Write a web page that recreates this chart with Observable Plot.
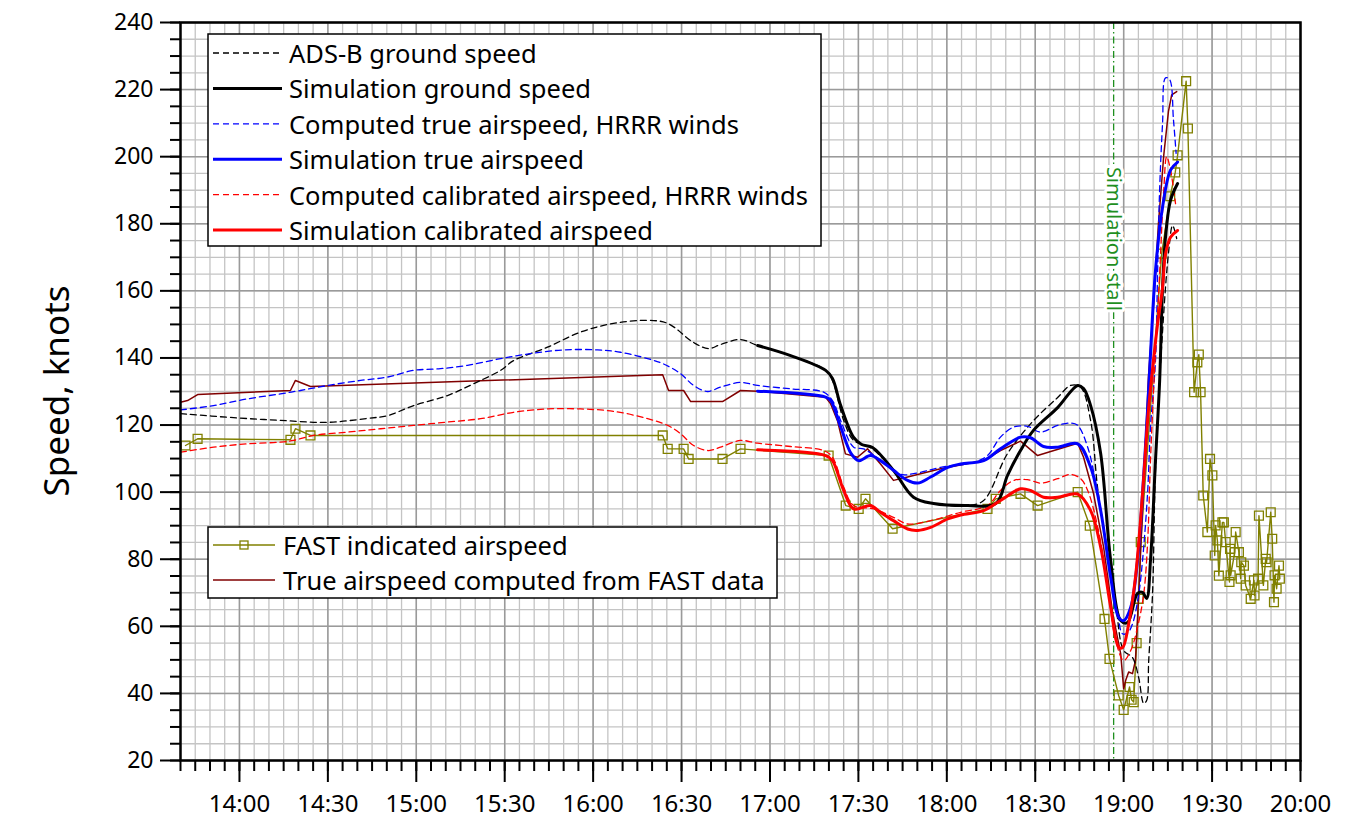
<!DOCTYPE html>
<html><head><meta charset="utf-8">
<script src="https://cdn.jsdelivr.net/npm/d3@7"></script>
<script src="https://cdn.jsdelivr.net/npm/@observablehq/plot@0.6"></script>
<style>body{margin:0;background:#fff;} svg{display:block}</style>
</head><body><div id="chart"></div>
<script>
// ---------- tick labels ----------
const xTickLabels = ["14:00","14:30","15:00","15:30","16:00","16:30","17:00","17:30","18:00","18:30","19:00","19:30","20:00"];
const yTickValues = [20,40,60,80,100,120,140,160,180,200,220,240];
const stallTime = "18:56.6";
const stallLabel = "Simulation stall";

// ---------- series: [time "H:MM.m", knots] ----------
const adsbGround = [
["13:40.0",123.4],["13:58.0",122.2],["14:13.9",121.4],["14:29.9",120.8],["14:43.5",122.0],["14:50.2",122.8],
["14:59.1",125.8],["15:10.6",128.8],["15:19.4",132.3],["15:28.6",136.3],["15:33.0",139.2],["15:44.5",143.2],
["15:55.7",147.7],["16:06.9",150.3],["16:18.5",151.2],["16:25.3",150.3],["16:34.1",144.6],["16:39.2",142.8],
["16:43.2",144.0],["16:50.0",145.5],["16:55.8",143.7],["17:07.0",140.7],["17:18.9",136.3],["17:21.2",133.3],
["17:25.0",121.4],["17:28.4",115.4],["17:34.1",113.3],["17:41.9",106.5],["17:48.7",98.5],["17:55.5",96.6],
["18:07.1",96.0],["18:12.5",97.5],["18:20.6",111.5],["18:29.4",121.3],["18:37.6",128.2],["18:42.0",131.8],
["18:45.4",131.3],["18:48.8",121.3],["18:51.2",101.0],["18:54.6",82.0],["18:57.5",65.0],["19:00.0",52.8],
["19:03.0",50.7],["19:05.1",44.7],["19:06.8",37.0],["19:07.8",37.9],["19:08.5",49.8],["19:09.8",69.8],
["19:10.8",106.5],["19:13.2",148.0],["19:15.3",172.0],["19:16.6",179.5],["19:18.0",175.6]
];
const simGround = [
["16:55.8",143.7],["17:07.0",140.7],["17:18.9",136.3],["17:21.2",133.9],["17:24.0",125.8],["17:28.4",116.3],
["17:31.1",114.2],["17:34.8",113.3],["17:41.9",106.5],["17:48.7",98.5],["17:55.5",96.6],["18:07.1",96.0],
["18:16.6",96.6],["18:20.6",105.0],["18:25.0",112.4],["18:29.4",118.4],["18:37.6",125.2],["18:44.4",131.8],
["18:46.4",130.9],["18:48.8",125.8],["18:52.2",111.5],["18:55.6",79.6],["18:59.0",61.7],["19:01.3",61.1],
["19:04.7",69.8],["19:06.4",70.1],["19:07.8",68.3],["19:09.1",79.6],["19:10.8",109.4],["19:12.2",133.0],
["19:13.2",161.0],["19:14.2",176.0],["19:15.9",187.0],["19:18.3",192.0]
];
const hrrrTrue = [
["13:40.0",124.5],["13:51.2",125.8],["14:02.7",127.8],["14:13.9",129.3],["14:20.7",130.3],["14:29.9",131.8],
["14:41.1",133.3],["14:50.2",134.3],["14:59.1",136.3],["15:08.2",136.8],["15:17.4",137.8],["15:28.6",139.8],
["15:38.8",141.3],["15:50.0",142.4],["16:01.5",142.4],["16:09.3",141.7],["16:18.5",139.8],["16:23.9",138.2],
["16:29.7",135.3],["16:34.1",131.8],["16:38.8",130.0],["16:43.2",131.3],["16:50.0",132.7],["16:55.8",131.8],
["17:07.0",130.8],["17:18.2",129.8],["17:21.2",127.3],["17:24.0",121.3],["17:28.4",113.4],["17:31.8",112.9],
["17:37.5",109.5],["17:44.3",105.3],["17:48.7",105.5],["17:57.9",107.4],["18:09.1",108.9],["18:13.8",110.9],
["18:18.2",116.4],["18:22.7",119.4],["18:27.4",119.6],["18:31.8",117.9],["18:37.6",119.9],["18:42.0",120.6],
["18:44.4",119.9],["18:47.8",113.4],["18:51.2",99.5],["18:54.6",81.6],["18:58.0",63.7],["18:59.6",57.8],
["19:01.3",58.0],["19:03.0",60.7],["19:05.1",69.6],["19:06.4",79.6],["19:08.1",99.5],["19:09.1",119.4],
["19:10.8",139.2],["19:11.5",165.0],["19:12.2",190.0],["19:13.2",210.0],["19:14.2",223.5],["19:15.6",223.0],
["19:16.9",211.0],["19:17.8",201.0]
];
const simTrue = [
["16:55.8",130.1],["17:18.9",128.3],["17:20.6",127.3],["17:24.0",119.4],["17:27.6",111.4],["17:30.1",109.4],
["17:34.1",110.9],["17:37.5",109.4],["17:41.9",106.5],["17:46.7",103.5],["17:50.1",102.7],["17:54.5",104.5],
["18:00.3",107.4],["18:04.7",108.4],["18:12.5",109.4],["18:18.2",112.9],["18:25.0",116.4],["18:28.4",116.2],
["18:32.8",113.6],["18:37.6",113.4],["18:44.4",114.4],["18:48.8",107.4],["18:52.2",94.5],["18:55.6",74.6],
["18:58.3",62.7],["19:00.0",61.7],["19:02.4",65.7],["19:04.7",79.6],["19:06.4",99.5],["19:08.1",124.3],
["19:09.1",141.0],["19:10.8",166.0],["19:13.2",185.0],["19:15.9",196.0],["19:18.3",198.4]
];
const hrrrCal = [
["13:40.0",111.9],["13:51.2",113.4],["14:02.7",114.4],["14:13.9",114.9],["14:18.3",115.4],["14:25.1",116.9],
["14:36.7",117.9],["14:47.9",118.9],["14:59.1",119.9],["15:10.6",120.9],["15:21.8",121.9],["15:33.0",123.8],
["15:44.5",124.8],["15:55.7",124.8],["16:06.9",124.1],["16:18.5",121.9],["16:25.3",119.9],["16:29.7",117.4],
["16:34.1",113.9],["16:39.2",112.4],["16:43.2",113.4],["16:50.0",115.4],["16:55.8",114.6],["17:07.0",113.6],
["17:18.2",112.4],["17:21.2",110.4],["17:25.0",101.5],["17:28.4",96.0],["17:35.2",95.0],["17:41.9",92.5],
["17:46.7",90.5],["17:54.5",91.5],["18:04.7",94.0],["18:13.8",96.0],["18:18.2",100.5],["18:22.7",103.5],
["18:27.4",103.7],["18:31.8",102.7],["18:37.6",104.0],["18:42.0",105.3],["18:45.4",104.0],["18:47.8",100.5],
["18:51.2",89.6],["18:54.6",71.7],["18:57.3",55.8],["19:00.0",49.8],["19:02.4",52.8],["19:04.7",59.7],
["19:06.8",69.6],["19:08.1",84.5],["19:09.1",109.4],["19:10.1",129.3],["19:12.2",165.0],["19:13.6",190.0],
["19:14.6",200.0],["19:15.9",196.0],["19:17.6",186.0]
];
const simCal = [
["16:55.8",112.6],["17:18.9",110.9],["17:21.2",109.4],["17:25.0",100.5],["17:28.4",95.0],["17:34.1",96.0],
["17:37.5",94.0],["17:41.9",91.5],["17:46.7",89.0],["17:50.1",88.6],["17:54.5",89.5],["18:00.3",92.0],
["18:04.7",93.2],["18:12.5",94.5],["18:18.2",97.5],["18:25.0",101.0],["18:28.4",100.5],["18:32.8",98.5],
["18:37.6",98.5],["18:44.4",99.4],["18:48.8",94.5],["18:52.2",83.6],["18:55.6",65.7],["18:58.3",53.8],
["18:59.6",53.6],["19:01.7",60.7],["19:04.0",74.6],["19:06.4",99.5],["19:08.4",124.3],["19:10.1",139.2],
["19:11.5",150.0],["19:13.2",161.0],["19:14.2",171.0],["19:15.9",176.0],["19:18.3",178.0]
];
const fastIndicated = [
["13:41.7",113.9],["13:45.8",115.9],["14:17.3",115.6],["14:19.0",118.9],["14:24.1",116.9],["16:23.6",116.9],
["16:25.3",112.9],["16:30.7",112.9],["16:32.4",109.9],["16:43.9",109.9],["16:50.0",112.9],["17:19.9",110.9],
["17:25.7",96.0],["17:30.1",95.0],["17:32.4",98.0],["17:41.6",89.1],["18:13.8",95.0],["18:16.6",98.0],
["18:25.0",99.5],["18:30.8",96.0],["18:44.4",100.0],["18:48.5",90.0],["18:53.5",62.2],["18:55.2",50.3],
["18:58.3",39.4],["19:00.0",35.1],["19:02.0",41.9],["19:02.7",38.1],["19:03.4",37.4],["19:04.4",55.0],
["19:05.1",68.2],["19:05.8",85.1],["19:12.9",171.1],["19:15.8",188.2],["19:17.5",195.3],["19:18.3",200.4],
["19:21.2",222.5],["19:21.8",208.4],["19:23.9",129.8],["19:25.0",138.7],["19:25.5",141.0],["19:26.1",129.8],
["19:27.0",99.0],["19:28.4",88.1],["19:29.3",109.9],["19:30.1",105.0],["19:30.9",81.1],["19:31.2",90.1],
["19:31.8",85.6],["19:32.3",75.1],["19:33.5",91.0],["19:34.0",91.0],["19:34.6",85.1],["19:35.9",73.2],
["19:36.1",83.1],["19:36.3",75.2],["19:37.7",82.1],["19:38.0",88.1],["19:39.1",82.1],["19:39.7",74.2],
["19:39.9",79.1],["19:40.8",78.1],["19:41.4",72.2],["19:43.1",68.2],["19:44.2",73.7],["19:44.4",69.2],
["19:45.6",74.2],["19:45.9",93.0],["19:47.4",72.2],["19:48.2",80.1],["19:48.5",79.1],["19:49.9",94.0],
["19:50.4",86.1],["19:51.0",67.2],["19:51.2",75.2],["19:51.9",71.2],["19:52.7",78.1],["19:53.0",74.2]
];
const fastTrue = [
["13:40.0",126.8],["13:42.4",127.3],["13:45.8",129.1],["14:17.3",130.3],["14:19.0",133.3],["14:24.1",131.5],
["16:23.6",135.0],["16:25.6",130.3],["16:30.7",130.3],["16:33.1",127.0],["16:43.9",127.0],["16:50.0",130.3],
["16:55.8",130.1],["17:18.9",128.3],["17:20.6",126.3],["17:22.9",121.3],["17:25.6",111.4],["17:29.7",110.4],
["17:33.1",112.9],["17:37.5",108.4],["17:41.9",103.5],["17:46.7",104.5],["17:57.9",107.0],["18:12.5",109.4],
["18:18.2",112.4],["18:25.0",115.2],["18:30.8",110.9],["18:44.4",114.6],["18:46.4",110.4],["18:49.8",99.5],
["18:53.2",83.6],["18:56.3",63.7],["18:59.0",51.8],["19:00.0",41.4],["19:00.7",43.9],["19:01.7",46.4],
["19:03.0",45.9],["19:04.0",49.8],["19:05.1",69.6],["19:06.4",94.5],["19:07.4",114.4],["19:08.4",134.3],
["19:10.1",155.0],["19:11.8",180.0],["19:13.6",200.4],["19:15.2",213.5],["19:16.3",218.4],["19:18.0",219.4]
];

// ---------- helpers ----------
const toMin = s => { const [h, m] = s.split(":"); return +h * 60 + parseFloat(m); };
const rows = arr => arr.map(([t, v]) => ({t: toMin(t), v}));
const fmt = m => `${Math.floor(m / 60)}:${String(Math.round(m % 60)).padStart(2, "0")}`;
const xMajor = xTickLabels.map(toMin);
const xMinor = d3.range(toMin("13:40"), toMin("20:00") + 0.1, 5);
const yMinor = d3.range(20, 241, 5);

const FONT = "'Noto Sans', 'Open Sans', sans-serif";
const st = {
  adsb: {stroke: "#000", strokeWidth: 1.3, strokeDasharray: "6,4"},
  simG: {stroke: "#000", strokeWidth: 3},
  hT: {stroke: "#0000ff", strokeWidth: 1.3, strokeDasharray: "6,4"},
  sT: {stroke: "#0000ff", strokeWidth: 3},
  hC: {stroke: "#ff0000", strokeWidth: 1.3, strokeDasharray: "6,4"},
  sC: {stroke: "#ff0000", strokeWidth: 3},
  fI: {stroke: "#808000", strokeWidth: 1.4},
  fT: {stroke: "#800000", strokeWidth: 1.5}
};
const stallColor = "#1f8f1f";

const chart = Plot.plot({
  width: 1345, height: 822,
  marginLeft: 180, marginRight: 45, marginTop: 22, marginBottom: 62,
  style: {fontFamily: FONT, background: "#fff", color: "#000"},
  x: {domain: [toMin("13:40"), toMin("20:00")]},
  y: {domain: [20, 240]},
  marks: [
    Plot.gridX(xMinor, {stroke: "#c4c4c4", strokeOpacity: 1, strokeWidth: 1.3}),
    Plot.gridY(yMinor, {stroke: "#c4c4c4", strokeOpacity: 1, strokeWidth: 1.3}),
    Plot.gridX(xMajor, {stroke: "#9a9a9a", strokeOpacity: 1, strokeWidth: 1.5}),
    Plot.gridY(yTickValues, {stroke: "#9a9a9a", strokeOpacity: 1, strokeWidth: 1.5}),
    Plot.ruleX([toMin(stallTime)], {stroke: stallColor, strokeWidth: 1.3, strokeDasharray: "7,3,1.5,3"}),
    Plot.text([stallLabel], {x: toMin(stallTime), y: 175.5, text: d => d, rotate: 90, fill: stallColor,
      fontSize: 20, stroke: "#fff", strokeWidth: 6}),
    Plot.line(rows(fastIndicated), {x: "t", y: "v", ...st.fI}),
    Plot.dot(rows(fastIndicated), {x: "t", y: "v", symbol: "square", r: 5, stroke: "#808000", fill: "none", strokeWidth: 1.3}),
    Plot.line(rows(fastTrue), {x: "t", y: "v", ...st.fT}),
    Plot.line(rows(adsbGround), {x: "t", y: "v", curve: "catmull-rom", ...st.adsb}),
    Plot.line(rows(hrrrTrue), {x: "t", y: "v", curve: "catmull-rom", ...st.hT}),
    Plot.line(rows(hrrrCal), {x: "t", y: "v", curve: "catmull-rom", ...st.hC}),
    Plot.line(rows(simGround), {x: "t", y: "v", curve: "catmull-rom", ...st.simG}),
    Plot.line(rows(simTrue), {x: "t", y: "v", curve: "catmull-rom", ...st.sT}),
    Plot.line(rows(simCal), {x: "t", y: "v", curve: "catmull-rom", ...st.sC}),
    Plot.axisX(xMinor, {tickSize: 11, text: null, label: null, strokeWidth: 2}),
    Plot.axisX(xMajor, {tickSize: 22, tickPadding: 12, tickFormat: fmt, fontSize: 24, label: null, strokeWidth: 2}),
    Plot.axisY(yMinor, {tickSize: 10, text: null, label: null, strokeWidth: 2}),
    Plot.axisY(yTickValues, {tickSize: 20, tickPadding: 7, fontSize: 23, label: null, strokeWidth: 2}),
    Plot.frame({stroke: "#000", strokeWidth: 2.5})
  ]
});
document.getElementById("chart").append(chart);

// ---------- y label and legends ----------
const svg = d3.select(chart);
svg.append("text").attr("transform", "translate(55,391) rotate(-90)")
  .attr("text-anchor", "middle").attr("dominant-baseline", "central")
  .style("font-family", FONT).style("font-size", "35px").attr("fill", "#000").text("Speed, knots");

function legend(x, y, w, h, items, rowH, firstY, sx0, sx1, tx) {
  const g = svg.append("g").attr("text-anchor", "start");
  g.append("rect").attr("x", x).attr("y", y).attr("width", w).attr("height", h)
    .attr("fill", "#fff").attr("stroke", "#000").attr("stroke-width", 1.5);
  items.forEach((it, i) => {
    const cy = firstY + i * rowH;
    g.append("line").attr("x1", sx0).attr("x2", sx1).attr("y1", cy).attr("y2", cy)
      .attr("stroke", it.s.stroke).attr("stroke-width", it.s.strokeWidth)
      .attr("stroke-dasharray", it.s.strokeDasharray || null);
    if (it.marker) g.append("rect").attr("x", (sx0 + sx1) / 2 - 4).attr("y", cy - 4).attr("width", 8).attr("height", 8)
      .attr("fill", "none").attr("stroke", "#808000").attr("stroke-width", 1.3);
    g.append("text").attr("x", tx).attr("y", cy).attr("dominant-baseline", "central").attr("text-anchor", "start")
      .style("font-family", FONT).style("font-size", "25.5px").attr("fill", "#000").text(it.label);
  });
}
legend(208, 34, 613, 212, [
  {label: "ADS-B ground speed", s: st.adsb},
  {label: "Simulation ground speed", s: st.simG},
  {label: "Computed true airspeed, HRRR winds", s: st.hT},
  {label: "Simulation true airspeed", s: st.sT},
  {label: "Computed calibrated airspeed, HRRR winds", s: st.hC},
  {label: "Simulation calibrated airspeed", s: st.sC}
], 35.4, 53, 213, 282, 289);
legend(208, 527, 569, 71, [
  {label: "FAST indicated airspeed", s: st.fI, marker: true},
  {label: "True airspeed computed from FAST data", s: st.fT}
], 35, 545, 213, 275, 283);
</script></body></html>
